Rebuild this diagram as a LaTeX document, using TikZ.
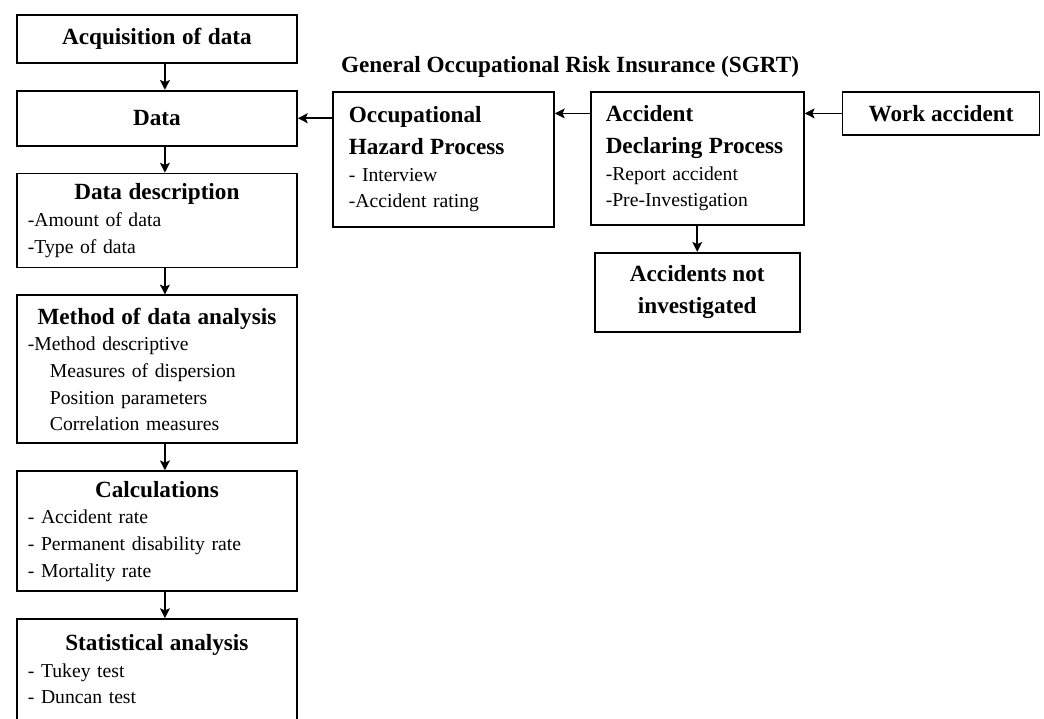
\documentclass[tikz,border=0pt]{standalone}
\usepackage{fontspec}
\setmainfont{Liberation Serif}
\usetikzlibrary{positioning, arrows.meta}

\newcommand{\boxtitle}[1]{{\centering\fontsize{16.5}{20}\selectfont\bfseries #1\par}}
\newcommand{\sidetitle}[1]{{\fontsize{16.5}{22.5}\selectfont\bfseries #1\par}}
\newcommand{\subindent}{\hspace*{0.55cm}}

\begin{document}
\begin{tikzpicture}[
  node distance=0.65cm and 0.9cm,
  stepbox/.style={draw, line width=1.3pt, inner xsep=0.275cm, inner ysep=0pt,
                  text width=6.45cm, align=left, font=\fontsize{14}{19}\selectfont},
  sidebox/.style={draw, line width=1.3pt, inner ysep=0pt, align=left,
                  font=\fontsize{14}{19}\selectfont},
  headbox/.style={draw, line width=1.3pt, align=center,
                  font=\fontsize{16.5}{22.5}\selectfont\bfseries},
  arrow/.style={-{Stealth[length=7pt,width=7pt,inset=1.5pt]}, line width=1.1pt}
]
  \path[use as bounding box, clip] (0,0) rectangle (26.1,-17.95);

  % left column
  \node[stepbox, minimum height=1.2cm, anchor=north west] (acq) at (0.4,-0.35)
    {\boxtitle{Acquisition of data}};
  \node[stepbox, minimum height=1.375cm, below=of acq] (data)
    {\boxtitle{Data}};
  \node[stepbox, minimum height=2.35cm, below=of data] (desc)
    {\boxtitle{Data description}-Amount of data\\-Type of data};
  \node[stepbox, minimum height=3.7cm, below=of desc] (method)
    {\boxtitle{Method of data analysis}-Method descriptive\\
     \subindent Measures of dispersion\\\subindent Position parameters\\\subindent Correlation measures};
  \node[stepbox, minimum height=3cm, below=of method] (calc)
    {\boxtitle{Calculations}- Accident rate\\- Permanent disability rate\\- Mortality rate};
  \node[stepbox, inner ysep=0.38cm, below=of calc] (stat)
    {\boxtitle{Statistical analysis}- Tukey test\\- Duncan test\rule[-3cm]{0pt}{0pt}};

  % SGRT side
  \node[font=\fontsize{16.5}{20}\selectfont\bfseries] (sgrt) at (14.25,-1.675)
    {General Occupational Risk Insurance (SGRT)};
  \node[sidebox, text width=4.725cm, inner xsep=0.4cm, minimum height=3.375cm,
        anchor=north west] (occ) at (8.3,-2.275)
    {\sidetitle{Occupational\\Hazard Process}- Interview\\-Accident rating};
  \node[sidebox, text width=4.575cm, inner xsep=0.375cm, minimum height=3.325cm,
        right=0.875cm of occ.north east, anchor=north west] (decl)
    {\sidetitle{Accident\\Declaring Process}-Report accident\\-Pre-Investigation};
  \node[headbox, minimum width=4.925cm, minimum height=1.075cm,
        right=0.925cm of decl.north east, anchor=north west] (work) {Work accident};
  \node[headbox, minimum width=5.125cm, minimum height=1.975cm, below=of decl] (notinv)
    {Accidents not\\investigated};

  \foreach \a/\b in {acq/data, data/desc, desc/method, method/calc, calc/stat}
    \draw[arrow] ([xshift=0.2cm]\a.south) -- ([xshift=0.2cm]\b.north);
  \draw[arrow] (work.west) -- (work.west -| decl.east);
  \draw[arrow] (decl.west |- work.west) -- (occ.east |- work.west);
  \draw[arrow] (occ.west |- data.east) -- (data.east);
  \draw[arrow] (decl.south) -- (decl.south |- notinv.north);
\end{tikzpicture}
\end{document}
